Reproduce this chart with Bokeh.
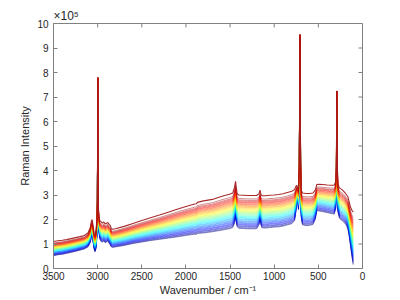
import numpy as np
from bokeh.plotting import figure
from bokeh.models import Range1d, Title, FixedTicker
from bokeh.embed import file_html
from bokeh.resources import INLINE

# ---- data (intensity in units of 1e5) ----
wavenumber = [3500, 3450, 3400, 3350, 3300, 3250, 3200, 3150, 3110, 3085, 3070, 3062,
              3052, 3040, 3030, 3020, 3008, 3003, 2998, 2993, 2985, 2975, 2960, 2945,
              2930, 2915, 2900, 2885, 2870, 2855, 2845, 2830, 2800, 2700, 2600, 2500,
              2400, 2300, 2200, 2100, 2000, 1900, 1880, 1870, 1800, 1700, 1600, 1500,
              1470, 1450, 1438, 1430, 1420, 1400, 1350, 1300, 1250, 1200, 1172, 1160,
              1150, 1140, 1100, 1050, 1000, 950, 900, 850, 800, 770, 755, 745, 735,
              725, 716, 708, 701, 694, 680, 640, 600, 560, 535, 517, 500, 450, 400,
              350, 320, 303, 296, 291, 286, 278, 260, 240, 220, 200, 180, 165, 150,
              135, 120, 105]
top_spectrum = [1.10, 1.13, 1.15, 1.18, 1.22, 1.26, 1.30, 1.35, 1.45, 1.65, 1.95, 2.00,
                1.75, 1.45, 1.40, 1.50, 2.00, 2.80, 7.80, 2.60, 2.10, 1.95, 1.90, 1.85,
                1.90, 1.82, 1.85, 1.88, 1.80, 1.75, 1.62, 1.60, 1.62, 1.72, 1.84, 1.96,
                2.07, 2.18, 2.30, 2.42, 2.53, 2.63, 2.64, 2.70, 2.76, 2.82, 2.94, 3.04,
                3.08, 3.30, 3.56, 3.30, 3.05, 3.00, 2.99, 2.98, 2.98, 2.98, 3.05, 3.20,
                3.02, 2.97, 2.97, 2.99, 3.00, 3.02, 3.05, 3.10, 3.15, 3.22, 3.35, 3.40,
                3.30, 3.25, 4.20, 9.55, 4.40, 3.20, 3.08, 3.06, 3.06, 3.08, 3.20, 3.43,
                3.44, 3.43, 3.41, 3.40, 3.40, 3.55, 4.20, 7.25, 4.30, 3.45, 3.28, 3.24,
                3.18, 3.10, 3.00, 2.92, 2.70, 2.50, 2.38, 2.30]
bottom_spectrum = [0.52, 0.56, 0.58, 0.62, 0.66, 0.70, 0.75, 0.80, 0.88, 1.05, 1.30, 1.35,
                   1.10, 0.80, 0.68, 0.80, 1.30, 2.50, 7.75, 2.30, 1.50, 1.20, 1.10, 1.08,
                   1.12, 1.05, 1.08, 1.12, 1.03, 0.95, 0.88, 0.86, 0.88, 0.94, 1.02, 1.08,
                   1.14, 1.19, 1.24, 1.29, 1.35, 1.40, 1.39, 1.43, 1.45, 1.50, 1.56, 1.63,
                   1.67, 1.85, 2.08, 1.90, 1.70, 1.64, 1.63, 1.62, 1.62, 1.62, 1.78, 2.00,
                   1.78, 1.66, 1.65, 1.67, 1.69, 1.70, 1.73, 1.78, 1.83, 1.95, 2.30, 2.80,
                   2.85, 2.40, 3.80, 9.50, 3.90, 2.10, 1.78, 1.75, 1.76, 1.80, 2.00, 2.37,
                   2.35, 2.32, 2.28, 2.24, 2.22, 2.45, 3.40, 7.20, 3.50, 2.30, 2.04, 1.98,
                   1.92, 1.85, 1.75, 1.60, 1.30, 0.90, 0.50, 0.15]
# level of each trace at 1300 cm^-1 (bottom to top)
levels_1300 = [1.62, 1.65, 1.69, 1.72, 1.76, 1.79, 1.83, 1.86, 1.90, 1.93, 1.97, 2.00,
               2.04, 2.07, 2.11, 2.14, 2.18, 2.21, 2.25, 2.28, 2.32, 2.35, 2.39, 2.42,
               2.46, 2.49, 2.53, 2.56, 2.60, 2.63, 2.67, 2.70, 2.74, 2.78, 2.84, 2.98]

x_ticks = [0, 500, 1000, 1500, 2000, 2500, 3000, 3500]
y_ticks = [0, 1, 2, 3, 4, 5, 6, 7, 8, 9, 10]
X_MAX, Y_MAX = 3500, 10


def jet(t):
    r = min(max(1.5 - abs(4 * t - 3), 0), 1)
    g = min(max(1.5 - abs(4 * t - 2), 0), 1)
    b = min(max(1.5 - abs(4 * t - 1), 0), 1)
    return "#%02x%02x%02x" % (int(r * 255), int(g * 255), int(b * 255))


FONT = "Liberation Sans"
TXT = "#262626"
AX = "#808080"

p = figure(width=400, height=300, output_backend="svg", toolbar_location=None,
           x_range=Range1d(X_MAX, 0), y_range=Range1d(0, Y_MAX),
           min_border_left=53, min_border_right=38, min_border_top=23, min_border_bottom=32,
           background_fill_color="white", border_fill_color="white")
p.grid.visible = False
p.outline_line_color = AX
p.outline_line_width = 1

# "x10^5" exponent note above the top-left corner
t = Title(text="×10⁵", align="left", text_font=FONT, text_font_size="12px",
          text_font_style="normal", text_color=TXT, offset=0, standoff=1)
p.add_layout(t, "above")

top = np.array(top_spectrum)
bot = np.array(bottom_spectrum)
b0 = bottom_spectrum[wavenumber.index(1300)]
t0 = top_spectrum[wavenumber.index(1300)]
n = len(levels_1300)
for i, lev in enumerate(levels_1300):
    f = (lev - b0) / (t0 - b0)
    ys = bot + (top - bot) * f
    tt = i / (n - 1)
    if i == n - 1:
        p.line(wavenumber, list(ys), line_color="#a31d1d", line_width=1.1, line_alpha=0.95)
    else:
        p.line(wavenumber, list(ys), line_color=jet(tt), line_width=1, line_alpha=0.45)

# mirrored inward ticks on the top and right edges of the box
tick_dy = 4 / 24.5
tick_dx = 4 / 0.0884
p.segment(x0=x_ticks, x1=x_ticks, y0=[Y_MAX] * len(x_ticks),
          y1=[Y_MAX - tick_dy] * len(x_ticks), line_color=AX, line_width=1)
p.segment(x0=[0] * len(y_ticks), x1=[tick_dx] * len(y_ticks), y0=y_ticks, y1=y_ticks,
          line_color=AX, line_width=1)

for ax in (p.xaxis[0], p.yaxis[0]):
    ax.major_tick_in = 4
    ax.major_tick_out = 0
    ax.minor_tick_line_color = None
    ax.axis_line_color = AX
    ax.major_tick_line_color = AX
    ax.major_label_text_font = FONT
    ax.major_label_text_font_size = "10px"
    ax.major_label_text_color = TXT
    ax.axis_label_text_font = FONT
    ax.axis_label_text_font_size = "11px"
    ax.axis_label_text_font_style = "normal"
    ax.axis_label_text_color = TXT

p.xaxis.ticker = FixedTicker(ticks=x_ticks)
p.yaxis.ticker = FixedTicker(ticks=y_ticks)
p.xaxis.axis_label = "Wavenumber / cm⁻¹"
p.yaxis.axis_label = "Raman Intensity"
p.xaxis.major_label_standoff = 3
p.xaxis.axis_label_standoff = 1
p.yaxis.major_label_standoff = 5
p.yaxis.axis_label_standoff = 3

open("out.html", "w").write(file_html(p, INLINE))
